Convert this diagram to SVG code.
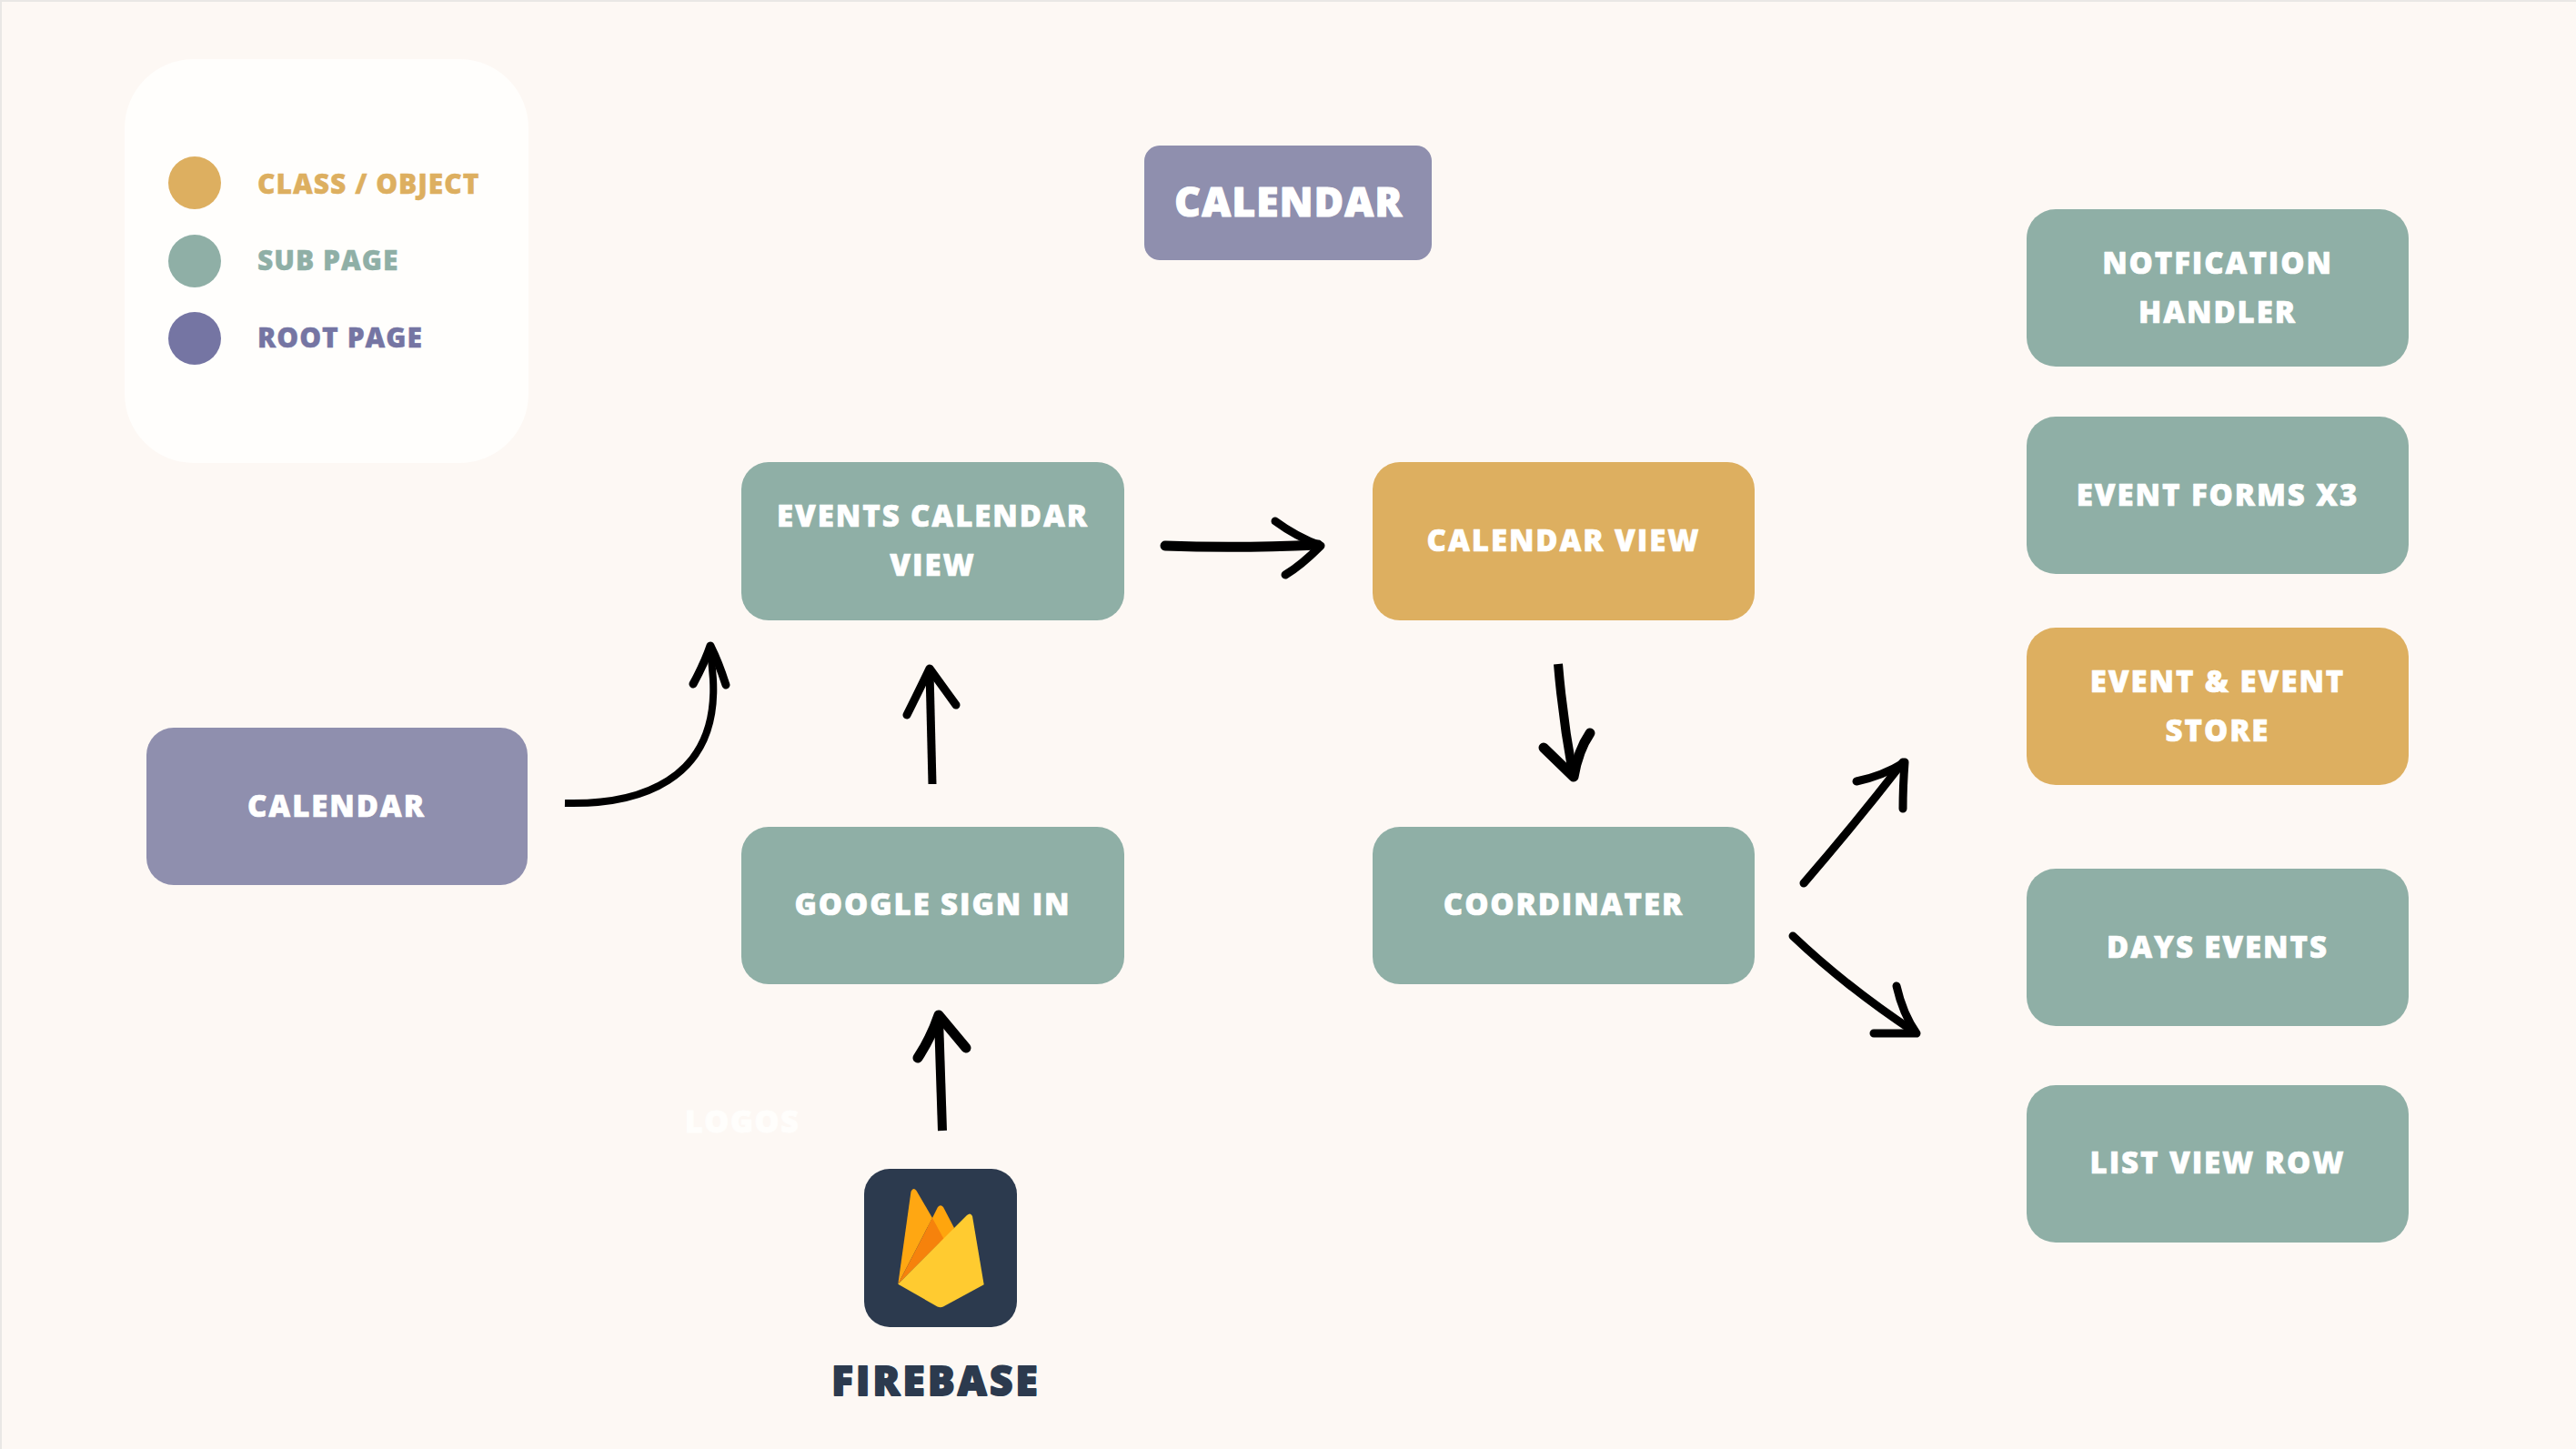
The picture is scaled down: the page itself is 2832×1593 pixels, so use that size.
<svg xmlns="http://www.w3.org/2000/svg" width="2832" height="1593" viewBox="0 0 2832 1593">
<style>
.teal{fill:#8FAFA6}.gold{fill:#DDAF60}.pur{fill:#8F8FAE}
text{font-family:"Open Sans","Noto Sans",sans-serif;font-weight:800;stroke-linejoin:round}
.t{fill:#FFFFFF;stroke:#FFFFFF;stroke-width:.6px;font-size:33px;text-anchor:middle;letter-spacing:1.9px}
.l{font-size:30px;letter-spacing:1px;stroke-width:.4px}
.a{fill:none;stroke:#000;stroke-linecap:round;stroke-linejoin:round}
.b{stroke-linecap:butt}
</style>
<rect width="2832" height="1593" fill="#FDF8F4"/>
<path d="M1 1593 V1 H2832" fill="none" stroke="#E9E7E5" stroke-width="2"/>
<g id="legend">
<rect x="137" y="65" width="444" height="444" rx="76" fill="#FFFEFC"/>
<circle cx="214" cy="201" r="29" class="gold"/>
<circle cx="214" cy="287" r="29" class="teal"/>
<circle cx="214" cy="372" r="29" fill="#7575A3"/>
<text x="283" y="213" class="l" fill="#DDAF60" stroke="#DDAF60">CLASS / OBJECT</text>
<text x="283" y="297" class="l" fill="#8FAFA6" stroke="#8FAFA6">SUB PAGE</text>
<text x="283" y="382" class="l" fill="#7575A3" stroke="#7575A3">ROOT PAGE</text>
</g>
<g id="title"><rect x="1258" y="160" width="316" height="126" rx="17" class="pur"/><text x="1417" y="238" class="t" style="font-size:44px;letter-spacing:1.3px;stroke-width:1.2px">CALENDAR</text></g>
<g id="calendar-root"><rect x="161" y="800" width="419" height="173" rx="30" class="pur"/><text x="370" y="898" class="t">CALENDAR</text></g>
<g id="events-calendar-view"><rect x="815" y="508" width="421" height="174" rx="30" class="teal"/><text x="1025.500" y="579" class="t">EVENTS CALENDAR</text><text x="1025.500" y="633" class="t">VIEW</text></g>
<g id="google-sign-in"><rect x="815" y="909" width="421" height="173" rx="30" class="teal"/><text x="1025.500" y="1006" class="t">GOOGLE SIGN IN</text></g>
<g id="calendar-view"><rect x="1509" y="508" width="420" height="174" rx="30" class="gold"/><text x="1719" y="606" class="t">CALENDAR VIEW</text></g>
<g id="coordinater"><rect x="1509" y="909" width="420" height="173" rx="30" class="teal"/><text x="1719" y="1006" class="t">COORDINATER</text></g>
<g id="notification-handler"><rect x="2228" y="230" width="420" height="173" rx="32" class="teal"/><text x="2438" y="301" class="t">NOTFICATION</text><text x="2438" y="355" class="t">HANDLER</text></g>
<g id="event-forms"><rect x="2228" y="458" width="420" height="173" rx="32" class="teal"/><text x="2438" y="556" class="t">EVENT FORMS X3</text></g>
<g id="event-store"><rect x="2228" y="690" width="420" height="173" rx="32" class="gold"/><text x="2438" y="761" class="t">EVENT &amp; EVENT</text><text x="2438" y="815" class="t">STORE</text></g>
<g id="days-events"><rect x="2228" y="955" width="420" height="173" rx="32" class="teal"/><text x="2438" y="1053" class="t">DAYS EVENTS</text></g>
<g id="list-view-row"><rect x="2228" y="1193" width="420" height="173" rx="32" class="teal"/><text x="2438" y="1290" class="t">LIST VIEW ROW</text></g>
<g id="logos"><text x="753" y="1245" style="font-size:34px;letter-spacing:1.5px" fill="#FFFEFC" stroke="#FFFEFC" stroke-width="1">LOGOS</text></g>
<g id="firebase">
<rect x="950" y="1285" width="168" height="174" rx="28" fill="#2C3A4E"/>
<path d="M987.300 1411.700 L1001.500 1310 Q1004 1304.500 1007.500 1309 L1025 1339 Z" fill="#FFA712"/>
<path d="M1020 1349 L1031 1327 Q1034 1323.500 1037 1327 L1049 1350 L1037 1370 Z" fill="#FFA50D"/>
<path d="M987.300 1411.700 L1025 1339 L1037.500 1362 Z" fill="#F6820C"/>
<path d="M987.300 1411.700 L1063 1336 Q1067 1332.500 1069 1337 L1081.700 1412.300 L1037 1436.500 Q1034 1438 1030.500 1436.500 Z" fill="#FFCB30"/>
<text x="1029" y="1534" text-anchor="middle" style="font-size:44px;letter-spacing:3.2px" fill="#2C3A4E" stroke="#2C3A4E" stroke-width="1.800">FIREBASE</text>
</g>
<g id="connectors">
<path d="M621 883 C700 885 790 860 784 747 L781 712" stroke-width="8" class="a b"/>
<path d="M762 752 Q775 728 781 710 Q790 728 798 753" stroke-width="9" class="a"/>
<path d="M1025 862 L1022 738" stroke-width="9" class="a b"/>
<path d="M997 786 Q1014 752 1022 735 L1051 775" stroke-width="9" class="a"/>
<path d="M1281 600 Q1360 603 1449 599" stroke-width="11" class="a"/>
<path d="M1402 573 Q1425 590 1452 600 Q1430 622 1413 632" stroke-width="9" class="a"/>
<path d="M1713 730 Q1718 790 1729 850" stroke-width="10" class="a b"/>
<path d="M1697 822 L1730 854 Q1735 825 1748 806" stroke-width="11" class="a"/>
<path d="M1036 1243 L1032 1120" stroke-width="10" class="a b"/>
<path d="M1009 1163 Q1024 1140 1032 1116 L1062 1152" stroke-width="11" class="a"/>
<path d="M1983 971 Q2040 905 2092 838" stroke-width="9" class="a"/>
<path d="M2041 859 Q2070 853 2094 838 Q2092 865 2092 889" stroke-width="9" class="a"/>
<path d="M1971 1029 Q2030 1085 2104 1134" stroke-width="9" class="a"/>
<path d="M2085 1084 Q2092 1115 2107 1136 L2060 1136" stroke-width="9" class="a"/>
</g>
</svg>
